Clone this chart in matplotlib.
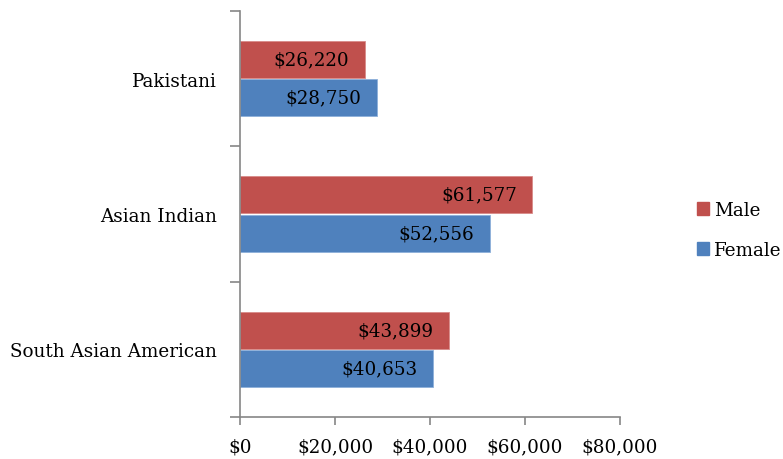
import numpy as np
import matplotlib.pyplot as plt
from matplotlib.patches import Patch

# data
groups = ['South Asian American', 'Asian Indian', 'Pakistani']
male = [43899, 61577, 26220]
female = [40653, 52556, 28750]
xticks = [0, 20000, 40000, 60000, 80000]

red = '#C0504D'
blue = '#4F81BD'
axis_col = '#868686'

plt.rcParams['font.family'] = ['DejaVu Serif']
fs = 13.2

fig = plt.figure(figsize=(7.83, 4.6), dpi=100)
ax = fig.add_axes([240/783, 1 - 418/460, 380/783, 406/460])

y = np.arange(len(groups))
h = 0.275
bm = ax.barh(y + h/2 + 0.004, male, height=h, color=red, edgecolor='#D98B89', linewidth=0.6)
bf = ax.barh(y - h/2 - 0.004, female, height=h, color=blue, edgecolor='#8DB0DA', linewidth=0.6)

for bars, vals in ((bm, male), (bf, female)):
    for b, v in zip(bars, vals):
        ax.text(v - 3200, b.get_y() + b.get_height()/2, f'${v:,}',
                ha='right', va='center', fontsize=fs, color='black')

ax.set_xlim(0, 80000)
ax.set_ylim(-0.5, 2.5)
ax.set_xticks(xticks)
ax.set_xticklabels([f'${v:,}' for v in xticks], fontsize=fs)

# category ticks at boundaries, labels at centers
ax.set_yticks([-0.5, 0.5, 1.5, 2.5])
ax.set_yticklabels([])
ax.set_yticks(y, minor=True)
ax.set_yticklabels(groups, minor=True, fontsize=fs)
ax.tick_params(axis='y', which='minor', length=0, pad=16.5)
ax.tick_params(axis='y', which='major', length=7, color=axis_col, width=1.2)
ax.tick_params(axis='x', length=6, color=axis_col, width=1.2, pad=9)

for s in ('top', 'right'):
    ax.spines[s].set_visible(False)
for s in ('left', 'bottom'):
    ax.spines[s].set_color(axis_col)
    ax.spines[s].set_linewidth(1.2)

handles = [Patch(color=red, label='Male'), Patch(color=blue, label='Female')]
fig.legend(handles=handles, loc='center left', bbox_to_anchor=(680/783, 1 - 231/460),
           frameon=False, fontsize=fs, handlelength=0.7, handleheight=0.7,
           handletextpad=0.25, labelspacing=1.2)

fig.savefig('out.png', dpi=100)
